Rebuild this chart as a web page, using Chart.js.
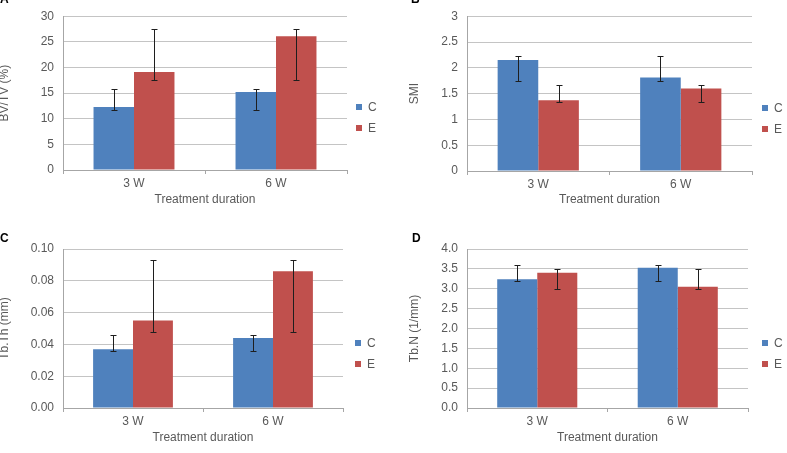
<!DOCTYPE html>
<html><head><meta charset="utf-8">
<script src="https://cdn.jsdelivr.net/npm/chart.js@4.4.0/dist/chart.umd.min.js"></script>
<style>
html,body{margin:0;padding:0;background:#fff;overflow:hidden}
#wrap{position:relative;width:787px;height:453px;overflow:hidden;background:#fff}
canvas{position:absolute}
.lbl{position:absolute;font:bold 12px "Liberation Sans",Arial,sans-serif;color:#000;line-height:12px;z-index:5}
</style></head>
<body><div id="wrap">
<canvas id="cA" width="397" height="215" style="left:-4px;top:0px;width:397px;height:215px"></canvas>
<canvas id="cB" width="387" height="215" style="left:400px;top:0px;width:387px;height:215px"></canvas>
<canvas id="cC" width="397" height="228" style="left:-4px;top:225px;width:397px;height:228px"></canvas>
<canvas id="cD" width="387" height="228" style="left:400px;top:225px;width:387px;height:228px"></canvas>
<div class="lbl" style="left:0px;top:-7px">A</div>
<div class="lbl" style="left:411px;top:-7px">B</div>
<div class="lbl" style="left:0px;top:232px">C</div>
<div class="lbl" style="left:412px;top:232px">D</div>
</div>
<script>
// ---- data ----
const categories = ['3 W', '6 W'];
const seriesNames = ['C', 'E'];
const xTitle = 'Treatment duration';

// A: BV/TV (%)
const bvtvC = [12.3, 15.2];
const bvtvE = [19.1, 26.1];
const bvtvCLow = [11.7, 11.7], bvtvCHigh = [15.8, 15.8];
const bvtvELow = [17.6, 17.6], bvtvEHigh = [27.6, 27.6];
const bvtvTicks = [0, 5, 10, 15, 20, 25, 30];
const bvtvTickLabels = ['0', '5', '10', '15', '20', '25', '30'];

// B: SMI
const smiC = [2.15, 1.81];
const smiE = [1.37, 1.60];
const smiCLow = [1.75, 1.75], smiCHigh = [2.23, 2.23];
const smiELow = [1.34, 1.34], smiEHigh = [1.66, 1.66];
const smiTicks = [0, 0.5, 1, 1.5, 2, 2.5, 3];
const smiTickLabels = ['0', '0.5', '1', '1.5', '2', '2.5', '3'];

// C: Tb.Th (mm)
const tbthC = [0.037, 0.044];
const tbthE = [0.055, 0.086];
const tbthCLow = [0.0356, 0.0356], tbthCHigh = [0.0456, 0.0456];
const tbthELow = [0.0481, 0.0481], tbthEHigh = [0.0929, 0.0929];
const tbthTicks = [0, 0.02, 0.04, 0.06, 0.08, 0.10];
const tbthTickLabels = ['0.00', '0.02', '0.04', '0.06', '0.08', '0.10'];

// D: Tb.N (1/mm)
const tbnC = [3.24, 3.53];
const tbnE = [3.40, 3.05];
const tbnCLow = [3.19, 3.19], tbnCHigh = [3.59, 3.59];
const tbnELow = [2.99, 2.99], tbnEHigh = [3.49, 3.49];
const tbnTicks = [0, 0.5, 1.0, 1.5, 2.0, 2.5, 3.0, 3.5, 4.0];
const tbnTickLabels = ['0.0', '0.5', '1.0', '1.5', '2.0', '2.5', '3.0', '3.5', '4.0'];

// ---- styles ----
const seriesColors = ['#4f81bd', '#c0504d'];
const textColor = '#595959';
const gridColor = '#c4c4c4';
const axisColor = '#a6a6a6';
const FONT = { family: '"Liberation Sans", Arial, sans-serif', size: 12 };

const errorBars = {
  id: 'errorBars',
  afterDatasetsDraw(chart) {
    const ctx = chart.ctx, ys = chart.scales.y;
    ctx.save();
    ctx.strokeStyle = '#1e1e1e';
    ctx.lineWidth = 1;
    chart.data.datasets.forEach((ds, di) => {
      const meta = chart.getDatasetMeta(di);
      meta.data.forEach((bar, i) => {
        const x = Math.round(bar.x) + 0.5;
        const yl = Math.round(ys.getPixelForValue(ds.low[i])) + 0.5;
        const yh = Math.round(ys.getPixelForValue(ds.high[i])) + 0.5;
        ctx.beginPath();
        ctx.moveTo(x, yl); ctx.lineTo(x, yh);
        ctx.moveTo(x - 3, yl); ctx.lineTo(x + 3, yl);
        ctx.moveTo(x - 3, yh); ctx.lineTo(x + 3, yh);
        ctx.stroke();
      });
    });
    ctx.restore();
  }
};

const sideLegend = {
  id: 'sideLegend',
  afterDraw(chart, args, opts) {
    const ctx = chart.ctx, ca = chart.chartArea;
    const mid = (ca.top + ca.bottom) / 2;
    ctx.save();
    ctx.font = FONT.size + 'px ' + FONT.family;
    ctx.textBaseline = 'middle';
    ctx.textAlign = 'left';
    chart.data.datasets.forEach((ds, i) => {
      const cy = Math.round(mid + 14 + i * 21);
      ctx.fillStyle = ds.backgroundColor;
      ctx.fillRect(opts.x, cy - 3, 6, 6);
      ctx.fillStyle = textColor;
      ctx.fillText(ds.label, opts.x + 12, cy + 0.5);
    });
    ctx.restore();
  }
};

function panel(id, cfg) {
  const el = document.getElementById(id);
  new Chart(el, {
    type: 'bar',
    data: {
      labels: categories,
      datasets: [
        { label: seriesNames[0], data: cfg.c, backgroundColor: seriesColors[0], low: cfg.cLow, high: cfg.cHigh },
        { label: seriesNames[1], data: cfg.e, backgroundColor: seriesColors[1], low: cfg.eLow, high: cfg.eHigh }
      ]
    },
    options: {
      responsive: false, animation: false, devicePixelRatio: 1,
      layout: { padding: { top: cfg.top, right: el.width - cfg.right, left: 0, bottom: 0 } },
      datasets: { bar: { categoryPercentage: 0.57, barPercentage: 1 } },
      plugins: { legend: { display: false }, tooltip: { enabled: false }, sideLegend: { x: cfg.legX } },
      scales: {
        x: {
          grid: { offset: true, drawOnChartArea: false, tickLength: 4, color: axisColor },
          border: { color: axisColor },
          ticks: { color: textColor, font: FONT, padding: 2 },
          title: { display: true, text: xTitle, color: textColor, font: FONT, padding: { top: 0, bottom: cfg.xtPad } },
          afterFit: s => { s.height = el.height - cfg.bottom; }
        },
        y: {
          min: cfg.ticks[0], max: cfg.ticks[cfg.ticks.length - 1],
          afterBuildTicks: s => { s.ticks = cfg.ticks.map(v => ({ value: v })); },
          ticks: { color: textColor, font: FONT, padding: 9, callback: (v, i) => cfg.tickLabels[i] },
          grid: { color: gridColor, drawTicks: false },
          border: { color: axisColor },
          title: { display: true, text: cfg.yTitle, color: textColor, font: FONT, padding: { top: cfg.ytPad, bottom: 0 } },
          afterFit: s => { s.width = cfg.left; }
        }
      }
    },
    plugins: [errorBars, sideLegend]
  });
}

panel('cA', { c: bvtvC, e: bvtvE, cLow: bvtvCLow, cHigh: bvtvCHigh, eLow: bvtvELow, eHigh: bvtvEHigh,
  ticks: bvtvTicks, tickLabels: bvtvTickLabels, yTitle: 'BV/TV (%)',
  left: 67, right: 351, top: 10, bottom: 170, xtPad: 8, ytPad: 1, legX: 360 });
panel('cB', { c: smiC, e: smiE, cLow: smiCLow, cHigh: smiCHigh, eLow: smiELow, eHigh: smiEHigh,
  ticks: smiTicks, tickLabels: smiTickLabels, yTitle: 'SMI',
  left: 67, right: 352, top: 11, bottom: 171, xtPad: 8, ytPad: 7, legX: 362 });
panel('cC', { c: tbthC, e: tbthE, cLow: tbthCLow, cHigh: tbthCHigh, eLow: tbthELow, eHigh: tbthEHigh,
  ticks: tbthTicks, tickLabels: tbthTickLabels, yTitle: 'Tb.Th (mm)',
  left: 67, right: 347, top: 24, bottom: 183, xtPad: 8, ytPad: 1, legX: 359 });
panel('cD', { c: tbnC, e: tbnE, cLow: tbnCLow, cHigh: tbnCHigh, eLow: tbnELow, eHigh: tbnEHigh,
  ticks: tbnTicks, tickLabels: tbnTickLabels, yTitle: 'Tb.N (1/mm)',
  left: 67, right: 348, top: 24, bottom: 183, xtPad: 8, ytPad: 7, legX: 362 });
</script>
</body></html>
